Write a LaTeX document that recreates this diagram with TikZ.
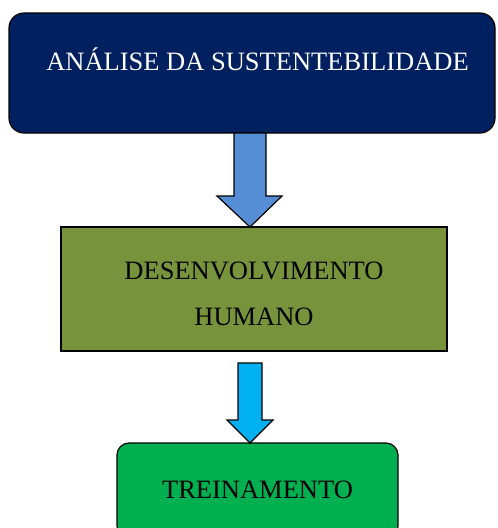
\documentclass[tikz,border=0pt]{standalone}
\usepackage{fontspec}
\setmainfont{Liberation Serif}
\usetikzlibrary{calc}
\definecolor{navy}{HTML}{002060}
\definecolor{olive}{HTML}{77933C}
\definecolor{grn}{HTML}{00B050}
\definecolor{arrblue}{HTML}{558ED5}
\definecolor{arrcyan}{HTML}{00B0F0}
\tikzset{
  box/.style={draw=black, line width=1.2pt, inner sep=0pt, outer sep=0pt},
  lbl/.style={font=\fontsize{26.5pt}{46pt}\selectfont, inner sep=0pt, align=center},
  blockarr/.style={draw=black, line width=1.2pt, line join=miter}
}
\begin{document}
\begin{tikzpicture}[x=1pt,y=1pt]
\useasboundingbox (0,0) rectangle (498,-528);
% boxes
\node[box, fill=navy, rounded corners=15pt, minimum width=486pt, minimum height=120pt] (b1) at (252,-73) {};
\node[lbl, text=white, anchor=base] (t1) at (257.5,-70) {ANÁLISE DA SUSTENTEBILIDADE};
\node[box, fill=olive, minimum width=386pt, minimum height=124pt] (b2) at (254,-289) {};
\node[lbl, text=black] (t2) at (254,-293.5) {DESENVOLVIMENTO\\HUMANO};
\node[box, fill=grn, rounded corners=12pt, minimum width=281pt, minimum height=95pt] (b3) at (257.5,-490.5) {};
\node[lbl, text=black, anchor=base] (t3) at (257.5,-498) {TREINAMENTO};
% arrows
\draw[blockarr, fill=arrblue] let \p1=($(b1.south)+(-2,0)$), \p2=($(b2.north)+(-4,0)$) in
  (\x1-16,\y1) -- (\x1+16,\y1) -- (\x1+16,\y2+31) -- (\x1+32,\y2+31) -- (\x2,\y2) -- (\x1-33,\y2+31) -- (\x1-16,\y2+31) -- cycle;
\draw[blockarr, fill=arrcyan] let \p1=($(b2.south)+(-4,-12)$), \p2=($(b3.north)+(-7.5,0)$) in
  (\x1-12,\y1) -- (\x1+12,\y1) -- (\x1+12,\y2+23) -- (\x1+23,\y2+23) -- (\x2,\y2) -- (\x1-23,\y2+23) -- (\x1-12,\y2+23) -- cycle;
\end{tikzpicture}
\end{document}
